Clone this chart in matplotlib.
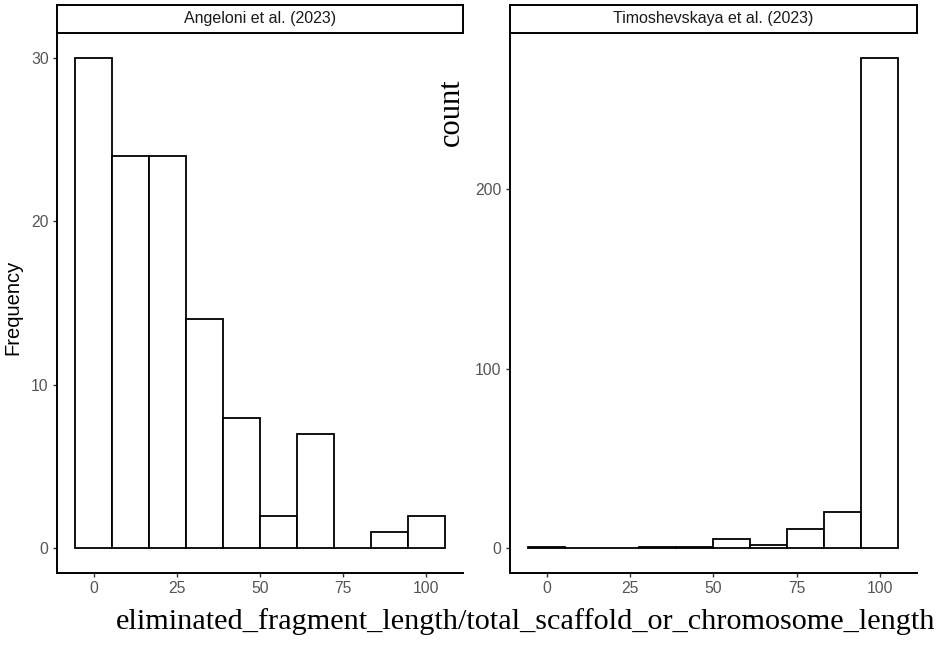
import matplotlib.pyplot as plt
import numpy as np

# histogram bins (10 bins over 0..100, centred on 0 and 100)
bin_centers = np.arange(10) * 100 / 9
bin_width = 100 / 9

angeloni_counts = [30, 24, 24, 14, 8, 2, 7, 0, 1, 2]
timoshevskaya_counts = [1, 0, 0, 1, 1, 5, 2, 11, 20, 273]

panel_titles = ["Angeloni et al. (2023)", "Timoshevskaya et al. (2023)"]
x_ticks = [0, 25, 50, 75, 100]
y_ticks = [[0, 10, 20, 30], [0, 100, 200]]

plt.rcParams['font.family'] = ['Liberation Sans', 'DejaVu Sans']

fig = plt.figure(figsize=(9.37, 6.52), dpi=100)

W, H = 937, 652
def rect(x0, y0, x1, y1):
    return [x0 / W, 1 - y1 / H, (x1 - x0) / W, (y1 - y0) / H]

panels = [(57, 463), (510, 917)]
for i, counts in enumerate([angeloni_counts, timoshevskaya_counts]):
    x0, x1 = panels[i]
    ax = fig.add_axes(rect(x0, 33, x1, 573))
    ax.bar(bin_centers, counts, width=bin_width, facecolor='white',
           edgecolor='black', linewidth=1.3)
    lo = -bin_width / 2
    hi = 100 + bin_width / 2
    pad = (hi - lo) * 0.05
    ax.set_xlim(lo - pad, hi + pad)
    top = max(counts)
    ax.set_ylim(-top * 0.05, top * 1.05)
    ax.set_xticks(x_ticks)
    ax.set_yticks(y_ticks[i])
    for s in ['top', 'right']:
        ax.spines[s].set_visible(False)
    for s in ['left', 'bottom']:
        ax.spines[s].set_linewidth(1.4)
    ax.tick_params(colors='#555555', labelsize=11.3, length=3, width=1,
                   pad=3)
    ax.tick_params(axis='both', color='#333333')

    # facet strip
    sax = fig.add_axes(rect(x0, 5, x1, 33))
    sax.set_xticks([])
    sax.set_yticks([])
    for s in sax.spines.values():
        s.set_linewidth(1.4)
    sax.text(0.5, 0.5, panel_titles[i], ha='center', va='center',
             fontsize=11.5, color='#1A1A1A', transform=sax.transAxes)

fig.text(13 / W, 1 - 307 / H, "Frequency", rotation=90, ha='center',
         va='center', fontsize=14.5)
fig.text(451 / W, 1 - 112 / H, "count", rotation=90, ha='center',
         va='center', fontsize=22, family='Liberation Serif')
fig.text(526 / W, 1 - 622 / H,
         "eliminated_fragment_length/total_scaffold_or_chromosome_length",
         ha='center', va='center', fontsize=21.8, family='Liberation Serif')

fig.savefig("out.png", dpi=100)
